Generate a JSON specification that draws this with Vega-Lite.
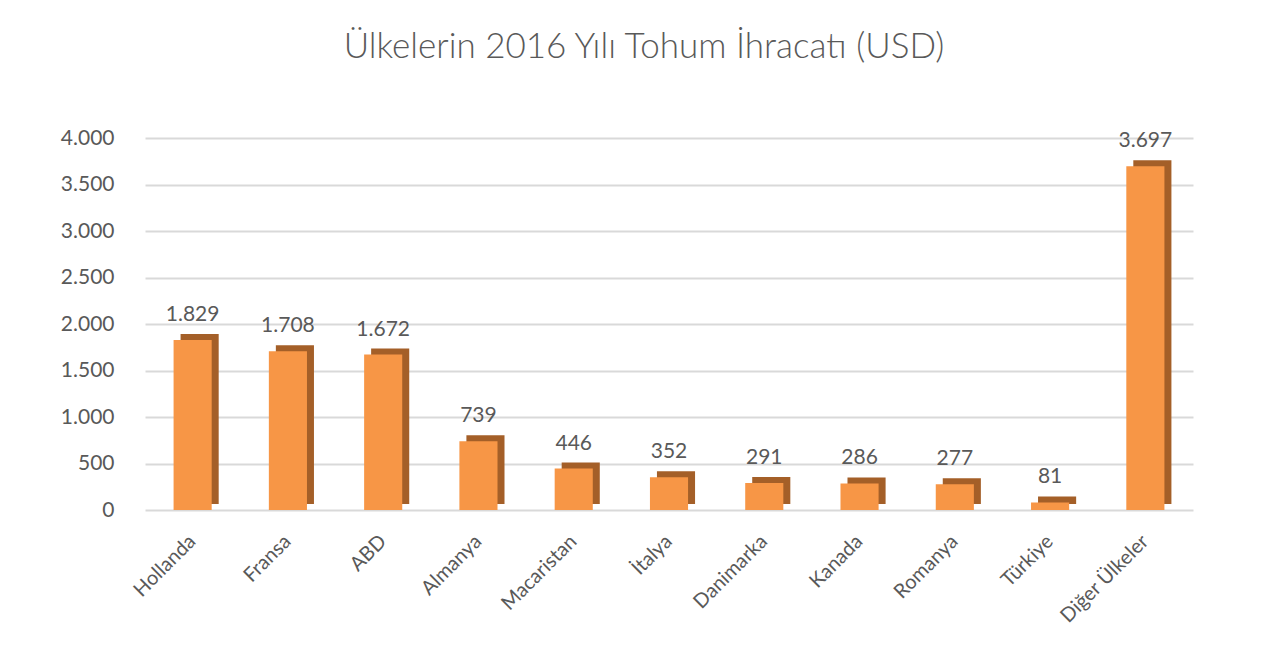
{
  "$schema": "https://vega.github.io/schema/vega-lite/v6.json",
  "autosize": "none",
  "width": 1048,
  "height": 372,
  "padding": {"left": 145, "top": 138, "right": 89, "bottom": 147},
  "background": "white",
  "config": {
    "locale": {"number": {"decimal": ",", "thousands": ".", "grouping": [3], "currency": ["", ""]}},
    "view": {"stroke": null},
    "font": "Lato"
  },
  "title": {
    "text": "Ülkelerin 2016 Yılı Tohum İhracatı (USD)",
    "font": "Lato",
    "fontSize": 35,
    "fontWeight": 300,
    "color": "#595959",
    "anchor": "middle",
    "dx": -25,
    "offset": 62
  },
  "data": {
    "values": [
      {"ulke": "Hollanda", "deger": 1829},
      {"ulke": "Fransa", "deger": 1708},
      {"ulke": "ABD", "deger": 1672},
      {"ulke": "Almanya", "deger": 739},
      {"ulke": "Macaristan", "deger": 446},
      {"ulke": "İtalya", "deger": 352},
      {"ulke": "Danimarka", "deger": 291},
      {"ulke": "Kanada", "deger": 286},
      {"ulke": "Romanya", "deger": 277},
      {"ulke": "Türkiye", "deger": 81},
      {"ulke": "Diğer Ülkeler", "deger": 3697}
    ]
  },
  "encoding": {
    "x": {
      "field": "ulke",
      "type": "nominal",
      "sort": null,
      "scale": {"paddingInner": 0.6, "paddingOuter": 0.3},
      "axis": {
        "title": null,
        "labelAngle": -45,
        "labelAlign": "right",
        "labelBaseline": "middle",
        "labelFontSize": 20,
        "labelFontWeight": "normal",
        "labelColor": "#595959",
        "labelPadding": 28,
        "ticks": false,
        "domain": false
      }
    },
    "y": {
      "field": "deger",
      "type": "quantitative",
      "scale": {"domain": [0, 4000], "nice": false},
      "axis": {
        "title": null,
        "values": [0, 500, 1000, 1500, 2000, 2500, 3000, 3500, 4000],
        "format": ",d",
        "labelFontSize": 21,
        "labelFontWeight": "normal",
        "labelColor": "#595959",
        "labelPadding": 31,
        "ticks": false,
        "domain": false,
        "gridColor": "#d9d9d9",
        "gridWidth": 2
      }
    }
  },
  "layer": [
    {"mark": {"type": "bar", "color": "#a45f28", "xOffset": 7, "yOffset": -6}},
    {"mark": {"type": "bar", "color": "#f79646"}},
    {
      "mark": {"type": "text", "dy": -25, "fontSize": 21, "fontWeight": "normal", "color": "#595959", "font": "Lato"},
      "encoding": {"text": {"field": "deger", "type": "quantitative", "format": ",d"}}
    }
  ]
}
